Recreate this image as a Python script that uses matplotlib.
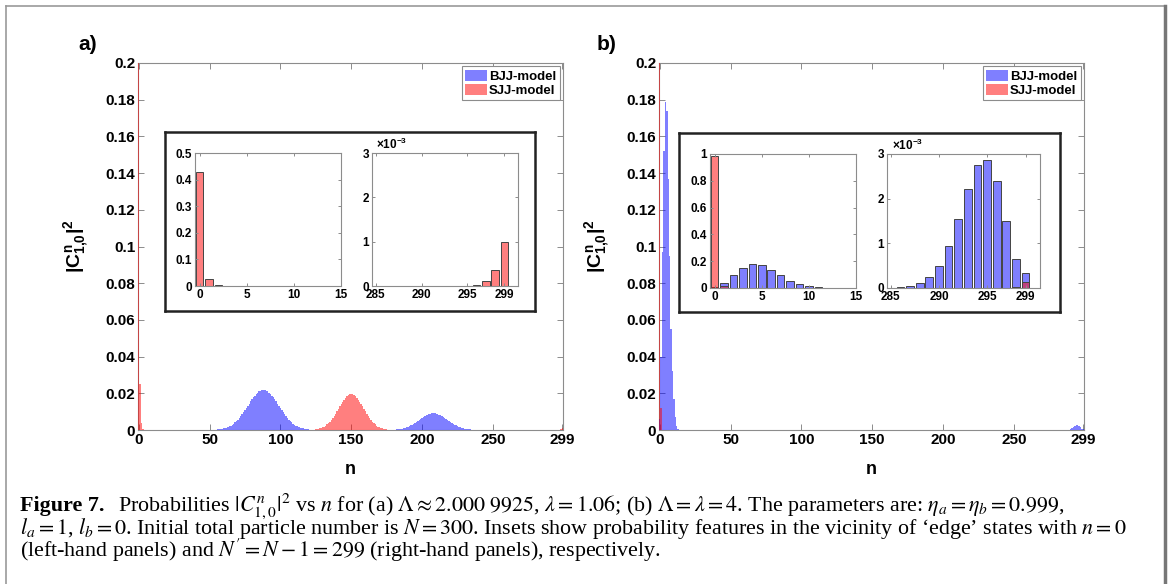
import matplotlib
matplotlib.use('Agg')
import matplotlib.pyplot as plt
import numpy as np
from matplotlib.lines import Line2D

plt.rcParams['font.family'] = 'Liberation Sans'
plt.rcParams['mathtext.fontset'] = 'custom'
plt.rcParams['mathtext.rm'] = 'Liberation Sans:bold'
plt.rcParams['mathtext.it'] = 'Liberation Sans:bold'
plt.rcParams['mathtext.bf'] = 'Liberation Sans:bold'

W, H = 1174, 584
N = 300
n = np.arange(N)

# ---------------- DATA ----------------
# --- panel a ---
sjj_a_edge0 = [0.43, 0.025, 0.004, 0.0005]                 # n = 0..3
sjj_a_edge299 = [1e-5, 3e-5, 1.1e-4, 3.7e-4, 1.0e-3]       # n = 295..299
# humps, units of 1e-4
bjj_a_hump1_start = 56
bjj_a_hump1 = [3.2, 4.1, 5.3, 6.8, 8.5, 10.7, 13.3, 16.5, 20.2, 24.5,
               29.5, 35.2, 41.7, 49.1, 57.2, 66.1, 75.7, 86.0, 97.0, 108.4,
               120.2, 132.2, 144.2, 156.0, 167.3, 178.0, 187.9, 196.6, 204.0, 210.0,
               214.4, 217.1, 218.0, 217.1, 214.4, 210.0, 204.0, 196.6, 187.9, 178.0,
               167.3, 156.0, 144.2, 132.2, 120.2, 108.4, 97.0, 86.0, 75.7, 66.1,
               57.2, 49.1, 41.7, 35.2, 29.5, 24.5, 20.2, 16.5, 13.3, 10.7,
               8.5, 6.8, 5.3, 4.1, 3.2, 2.4, 1.8, 1.4, 1.0]
sjj_a_hump_start = 123
sjj_a_hump = [1.8, 2.5, 3.5, 4.7, 6.4, 8.6, 11.3, 14.7, 19.0, 24.1,
              30.2, 37.3, 45.6, 55.0, 65.5, 77.0, 89.3, 102.3, 115.6, 129.0,
              142.1, 154.6, 165.9, 175.9, 184.0, 190.0, 193.8, 195.0, 193.8, 190.0,
              184.0, 175.9, 165.9, 154.6, 142.1, 129.0, 115.6, 102.3, 89.3, 77.0,
              65.5, 55.0, 45.6, 37.3, 30.2, 24.1, 19.0, 14.7, 11.3, 8.6,
              6.4, 4.7, 3.5, 2.5, 1.8]
bjj_a_hump2_start = 178
bjj_a_hump2 = [1.0, 1.4, 1.8, 2.4, 3.1, 4.0, 5.1, 6.5, 8.1, 10.0,
               12.3, 15.0, 18.0, 21.4, 25.3, 29.5, 34.2, 39.1, 44.3, 49.7,
               55.2, 60.7, 66.1, 71.2, 76.0, 80.3, 84.0, 87.0, 89.2, 90.5,
               91.0, 90.5, 89.2, 87.0, 84.0, 80.3, 76.0, 71.2, 66.1, 60.7,
               55.2, 49.7, 44.3, 39.1, 34.2, 29.5, 25.3, 21.4, 18.0, 15.0,
               12.3, 10.0, 8.1, 6.5, 5.1, 4.0, 3.1, 2.4, 1.8, 1.4, 1.0]

# --- panel b ---
sjj_b_edge0 = [0.985, 0.012]                                # n = 0..1
sjj_b_edge299 = [3e-5, 1.3e-4]                              # n = 298..299
bjj_b_edge0 = [0.006, 0.04, 0.097, 0.152, 0.179, 0.174, 0.137, 0.095,
               0.055, 0.032, 0.017, 0.007, 0.002, 0.0006]   # n = 0..13
bjj_b_edge299 = [1e-5, 2e-5, 5e-5, 1.1e-4, 2.5e-4, 5e-4, 9.4e-4, 1.54e-3,
                 2.22e-3, 2.76e-3, 2.87e-3, 2.4e-3, 1.51e-3, 6.5e-4, 3.3e-4]  # n = 285..299

main_xticks = [0, 50, 100, 150, 200, 250, 299]
main_yticks = [0, 0.02, 0.04, 0.06, 0.08, 0.1, 0.12, 0.14, 0.16, 0.18, 0.2]
main_ylabels = ['0', '0.02', '0.04', '0.06', '0.08', '0.1', '0.12', '0.14', '0.16', '0.18', '0.2']


def place(arr, start, vals, scale=1.0):
    arr[start:start + len(vals)] += np.array(vals) * scale


bjj_a = np.zeros(N)
sjj_a = np.zeros(N)
place(sjj_a, 0, sjj_a_edge0)
place(sjj_a, 295, sjj_a_edge299)
place(bjj_a, bjj_a_hump1_start, bjj_a_hump1, 1e-4)
place(sjj_a, sjj_a_hump_start, sjj_a_hump, 1e-4)
place(bjj_a, bjj_a_hump2_start, bjj_a_hump2, 1e-4)

bjj_b = np.zeros(N)
sjj_b = np.zeros(N)
place(sjj_b, 0, sjj_b_edge0)
place(sjj_b, 298, sjj_b_edge299)
place(bjj_b, 0, bjj_b_edge0)
place(bjj_b, 285, bjj_b_edge299)

BLUE = (0, 0, 1, 0.5)
RED = (1, 0, 0, 0.5)
SPINE = '#8c8c8c'


def px_box(x0, y0, x1, y1):
    return [x0 / W, 1 - y1 / H, (x1 - x0) / W, (y1 - y0) / H]


def style(ax, size, length):
    for s in ax.spines.values():
        s.set_color(SPINE)
        s.set_linewidth(0.8)
    ax.tick_params(direction='in', top=True, right=True, length=length,
                   width=0.7, color=SPINE, labelsize=size, pad=2)
    for lab in ax.get_xticklabels() + ax.get_yticklabels():
        lab.set_fontweight('bold')


fig = plt.figure(figsize=(W / 100, H / 100), dpi=100)

panels = [
    ('a)', bjj_a, sjj_a, 138, 88, (0, 0.5), [0, 0.1, 0.2, 0.3, 0.4, 0.5],
     ['0', '0.1', '0.2', '0.3', '0.4', '0.5'],
     (165, 132, 535, 311), (195, 153, 341, 286), (372, 153, 518, 286)),
    ('b)', bjj_b, sjj_b, 659, 607, (0, 1), [0, 0.2, 0.4, 0.6, 0.8, 1],
     ['0', '0.2', '0.4', '0.6', '0.8', '1'],
     (679, 133, 1060, 312), (710, 154, 856, 288), (887, 154, 1040, 288)),
]

for label, bjj, sjj, x0, lx, ylim_l, yt_l, yl_l, box, left_box, right_box in panels:
    ax = fig.add_axes(px_box(x0, 63, x0 + 425, 430))
    ax.bar(n, bjj, width=1.0, color=BLUE, linewidth=0, label='BJJ-model', zorder=3)
    ax.bar(n, sjj, width=1.0, color=RED, linewidth=0, label='SJJ-model', zorder=3)
    ax.set_xlim(-0.5, 299.5)
    ax.set_ylim(0, 0.2)
    ax.set_xticks(main_xticks)
    ax.set_xticklabels([str(t) for t in main_xticks])
    ax.set_yticks(main_yticks)
    ax.set_yticklabels(main_ylabels)
    style(ax, 11, 4)
    ax.set_xlabel('n', fontsize=13, fontweight='bold')
    ax.xaxis.set_label_coords(0.5, -0.085)
    ax.set_ylabel(r'$|C^{n}_{1{,}0}|^{2}$', fontsize=14)
    ax.yaxis.set_label_coords(-0.11, 0.5)
    leg = ax.legend(loc='upper right', fontsize=9.5, fancybox=False,
                    edgecolor=SPINE, framealpha=1, borderaxespad=0.25,
                    borderpad=0.25, labelspacing=0.1, handlelength=1.6,
                    handleheight=0.9, handletextpad=0.2)
    leg.get_frame().set_linewidth(0.8)
    leg.set_zorder(5)
    for t in leg.get_texts():
        t.set_fontweight('bold')
    fig.text(lx / W, 1 - 45 / H, label, fontsize=15, fontweight='bold',
             ha='center', va='center')

    # inset frame
    bx = fig.add_axes(px_box(*box))
    bx.set_xticks([])
    bx.set_yticks([])
    for s in bx.spines.values():
        s.set_color('#222222')
        s.set_linewidth(1.8)

    # left inset (n near 0)
    ia = fig.add_axes(px_box(*left_box))
    ia.bar(n, bjj, width=0.8, color=BLUE, edgecolor='#444444', linewidth=0.7)
    ia.bar(n, sjj, width=0.8, color=RED, edgecolor='#444444', linewidth=0.7)
    ia.set_xlim(-0.5, 15)
    ia.set_ylim(*ylim_l)
    ia.set_xticks([0, 5, 10, 15])
    ia.set_xticklabels(['0', '5', '10', '15'])
    ia.set_yticks(yt_l)
    ia.set_yticklabels(yl_l)
    style(ia, 8.5, 2.5)

    # right inset (n near 299)
    ib = fig.add_axes(px_box(*right_box))
    ib.bar(n, bjj, width=0.8, color=BLUE, edgecolor='#444444', linewidth=0.7)
    ib.bar(n, sjj, width=0.8, color=RED, edgecolor='#444444', linewidth=0.7)
    ib.set_xlim(284.6, 300.5)
    ib.set_ylim(0, 3e-3)
    ib.set_xticks([285, 290, 295, 299])
    ib.set_xticklabels(['285', '290', '295', '299'])
    ib.set_yticks([0, 1e-3, 2e-3, 3e-3])
    ib.set_yticklabels(['0', '1', '2', '3'])
    style(ib, 8.5, 2.5)
    ib.text(0.03, 1.005, r'$\times 10^{-3}$', transform=ib.transAxes,
            fontsize=8.5, ha='left', va='bottom')

# outer frame
fig.add_artist(Line2D([6 / W, 6 / W], [0, 1 - 6 / H], color='#999999', lw=1.2))
fig.add_artist(Line2D([6 / W, 1166 / W], [1 - 6 / H, 1 - 6 / H], color='#999999', lw=1.2))
fig.add_artist(Line2D([1165 / W, 1165 / W], [0, 1 - 6 / H], color='#777777', lw=2.5))

# caption
line1 = (r'Probabilities $|C^{n}_{1,0}|^{2}$ vs $n$ for (a) $\Lambda \approx 2.000\ 9925$, '
         r'$\lambda = 1.06$; (b) $\Lambda = \lambda = 4$. The parameters are: '
         r'$\eta_a = \eta_b = 0.999$,')
line2 = (r'$l_a = 1$, $l_b = 0$. Initial total particle number is $N = 300$. '
         r'Insets show probability features in the vicinity of ‘edge’ states with $n = 0$')
line3 = r"(left-hand panels) and $N' = N - 1 = 299$ (right-hand panels), respectively."

cap_kw = dict(family='Liberation Serif', math_fontfamily='stix',
              va='baseline', ha='left', fontweight='normal')
size = 14
t_fig = fig.text(20 / W, 1 - 511 / H, 'Figure 7.', fontsize=size,
                 family='Liberation Serif', fontweight='bold', va='baseline', ha='left')
t1 = fig.text(0, 1 - 511 / H, line1, fontsize=size, **cap_kw)
t2 = fig.text(20 / W, 1 - 534 / H, line2, fontsize=size, **cap_kw)
t3 = fig.text(20 / W, 1 - 557 / H, line3, fontsize=size, **cap_kw)

# fit lines 1 and 2 into the width they take in the original (x = 20 .. 1135)
r = fig.canvas.get_renderer()
w1 = t_fig.get_window_extent(r).width + 12 + t1.get_window_extent(r).width
w2 = t2.get_window_extent(r).width
size = size * min(1115 / w1, 1113 / w2)
for t in (t_fig, t1, t2, t3):
    t.set_fontsize(size)
bb = t_fig.get_window_extent(r)
t1.set_x((bb.x1 + 12 * size / 14) / W)

fig.savefig('out.png', dpi=100)
